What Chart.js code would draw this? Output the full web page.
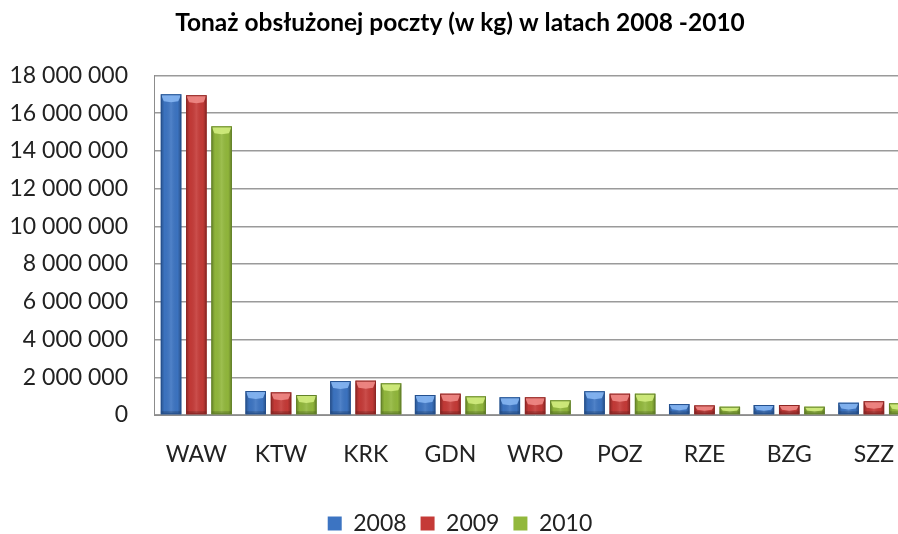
<!DOCTYPE html>
<html>
<head>
<meta charset="utf-8">
<script src="https://cdn.jsdelivr.net/npm/chart.js@4.4.1/dist/chart.umd.min.js"></script>
<style>
  html, body { margin: 0; padding: 0; background: #ffffff; overflow: hidden; }
  #wrap { width: 898px; height: 534px; overflow: hidden; position: relative; }
  canvas { display: block; }
</style>
</head>
<body>
<div id="wrap"><canvas id="c" width="920" height="534"></canvas></div>
<script>
const titleText = 'Tonaż obsłużonej poczty (w kg) w latach 2008 -2010';
const categories = ['WAW', 'KTW', 'KRK', 'GDN', 'WRO', 'POZ', 'RZE', 'BZG', 'SZZ'];
const seriesNames = ['2008', '2009', '2010'];
const values2008 = [17000000, 1270000, 1800000, 1060000, 940000, 1260000, 580000, 530000, 650000];
const values2009 = [16950000, 1200000, 1820000, 1130000, 940000, 1130000, 510000, 530000, 730000];
const values2010 = [15300000, 1060000, 1680000, 990000, 780000, 1130000, 440000, 440000, 620000];
const yTicks = [0, 2000000, 4000000, 6000000, 8000000, 10000000, 12000000, 14000000, 16000000, 18000000];

const baseColors = ['#3C74C2', '#C53A37', '#92B83C'];
const lightColors = ['#86B6F2', '#F08A86', '#D2EC7E'];
const darkColors = ['#24508E', '#8E2624', '#63832A'];

function fmt(v) {
  return String(v).replace(/\B(?=(\d{3})+(?!\d))/g, ' ');
}

const bevelPlugin = {
  id: 'bevel',
  afterDatasetsDraw(chart) {
    const ctx = chart.ctx;
    chart.data.datasets.forEach((ds, di) => {
      const meta = chart.getDatasetMeta(di);
      meta.data.forEach((el) => {
        const w = el.width;
        const l = el.x - w / 2;
        const r = el.x + w / 2;
        const t = el.y;
        const b = el.base;
        const h = b - t;
        ctx.save();
        const g = ctx.createLinearGradient(l, 0, r, 0);
        g.addColorStop(0, 'rgba(0,0,0,0.28)');
        g.addColorStop(0.18, 'rgba(0,0,0,0.02)');
        g.addColorStop(0.5, 'rgba(255,255,255,0.10)');
        g.addColorStop(0.82, 'rgba(0,0,0,0.02)');
        g.addColorStop(1, 'rgba(0,0,0,0.30)');
        ctx.fillStyle = g;
        ctx.fillRect(l, t, w, h);
        const bh = Math.min(7, h / 2);
        ctx.beginPath();
        ctx.moveTo(l, t);
        ctx.lineTo(r, t);
        ctx.lineTo(r - 3, t + bh);
        ctx.lineTo(el.x, t + bh + 1);
        ctx.lineTo(l + 3, t + bh);
        ctx.closePath();
        ctx.fillStyle = lightColors[di];
        ctx.globalAlpha = 0.9;
        ctx.fill();
        ctx.globalAlpha = 1;
        ctx.fillStyle = 'rgba(0,0,0,0.18)';
        ctx.fillRect(l, b - 3, w, 3);
        ctx.strokeStyle = darkColors[di];
        ctx.lineWidth = 1;
        ctx.strokeRect(l + 0.5, t + 0.5, w - 1, h - 1);
        ctx.restore();
      });
    });
  }
};

const chart = new Chart(document.getElementById('c'), {
  type: 'bar',
  data: {
    labels: categories,
    datasets: [
      { label: seriesNames[0], data: values2008, backgroundColor: baseColors[0], borderWidth: 0 },
      { label: seriesNames[1], data: values2009, backgroundColor: baseColors[1], borderWidth: 0 },
      { label: seriesNames[2], data: values2010, backgroundColor: baseColors[2], borderWidth: 0 }
    ]
  },
  options: {
    responsive: false,
    animation: false,
    devicePixelRatio: 1,
    layout: { padding: { left: 0, right: 0, top: 0, bottom: -11 } },
    datasets: {
      bar: { categoryPercentage: 0.896, barPercentage: 0.81 }
    },
    plugins: {
      title: {
        display: true,
        text: titleText,
        color: '#000000',
        font: { family: 'Lato', size: 24.5, weight: 'bold' },
        padding: { top: 8, bottom: 38 }
      },
      legend: {
        display: true,
        position: 'bottom',
        labels: {
          color: '#222222',
          font: { family: 'Lato', size: 23 },
          boxWidth: 14,
          boxHeight: 14,
          padding: 14
        }
      },
      tooltip: { enabled: false }
    },
    scales: {
      x: {
        grid: { display: false, drawTicks: false },
        border: { display: true, color: '#8c8c8c', width: 1 },
        ticks: { color: '#222222', font: { family: 'Lato', size: 23 }, padding: 26, maxRotation: 0 },
        afterFit(scale) { scale.height = 83; }
      },
      y: {
        min: 0,
        max: 18000000,
        afterBuildTicks(scale) { scale.ticks = yTicks.map(v => ({ value: v })); },
        grid: { color: '#9a9a9a', lineWidth: 1.5, drawTicks: false },
        border: { display: true, color: '#8c8c8c', width: 1 },
        ticks: {
          color: '#222222',
          font: { family: 'Lato', size: 23 },
          padding: 26,
          callback: (v) => fmt(v)
        },
        afterFit(scale) { scale.width = 154; }
      }
    }
  },
  plugins: [bevelPlugin]
});
</script>
</body>
</html>
